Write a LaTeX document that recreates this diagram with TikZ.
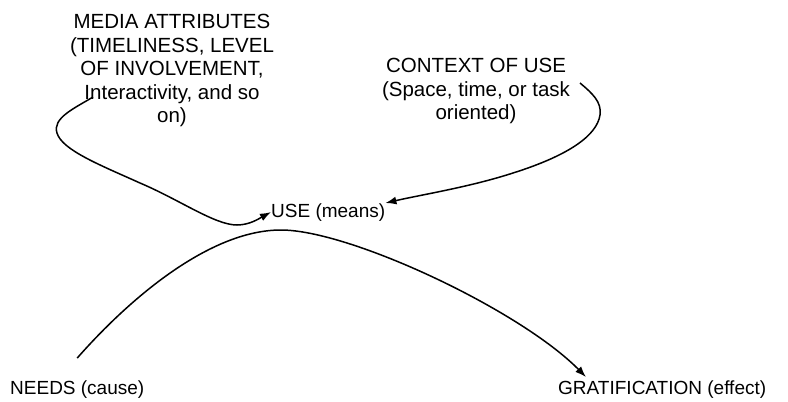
\documentclass[tikz,border=0pt]{standalone}
\usepackage{fontspec}
\setmainfont{Liberation Sans}
\usetikzlibrary{arrows.meta}
\begin{document}
\begin{tikzpicture}[x=1pt,y=-1pt,
  lbl/.style={inner sep=0pt, font=\fontsize{19}{23.5}\selectfont},
  blocklbl/.style={lbl, align=center, font=\fontsize{20.5}{23.5}\selectfont},
  link/.style={line width=1.5pt, -{Latex[length=11pt,width=8pt]}}]
  \useasboundingbox (0,0) rectangle (788,402);

  % labels
  \node[blocklbl, anchor=north] (media) at (172,14)
    {MEDIA ATTRIBUTES\\(TIMELINESS, LEVEL\\OF INVOLVEMENT,\\Interactivity, and so\\on)};
  \node[blocklbl, anchor=north] (context) at (476,58)
    {CONTEXT OF USE\\(Space, time, or task\\oriented)};
  \node[lbl, anchor=base west] (use) at (271,217) {USE (means)};
  \node[lbl, anchor=base west] (needs) at (10,394) {NEEDS (cause)};
  \node[lbl, anchor=base west] (grat) at (558,394) {GRATIFICATION (effect)};

  % connector end points
  \coordinate (mstart) at (93,97);
  \coordinate (cstart) at (580,83);
  \coordinate (nstart) at ([yshift=22pt]needs.north);
  \coordinate (gend) at ([xshift=28pt,yshift=3pt]grat.north west);

  % media attributes -> use
  \draw[link] (mstart) .. controls (75,108) and (52,118) .. (57,133)
    .. controls (62,150) and (100,165) .. (140,183)
    .. controls (180,200) and (215,225) .. (237,225)
    .. controls (250,225) and (260,218) .. (use.west);
  % context of use -> use
  \draw[link] (cstart) .. controls (592,93) and (602,102) .. (600,115)
    .. controls (597,135) and (570,155) .. (513,173)
    .. controls (470,187) and (420,195) .. (use.north east);
  % needs -> gratification
  \draw[link] (nstart) .. controls (130,298) and (210,230) .. (281,230)
    .. controls (350,230) and (520,310) .. (gend);
\end{tikzpicture}
\end{document}
